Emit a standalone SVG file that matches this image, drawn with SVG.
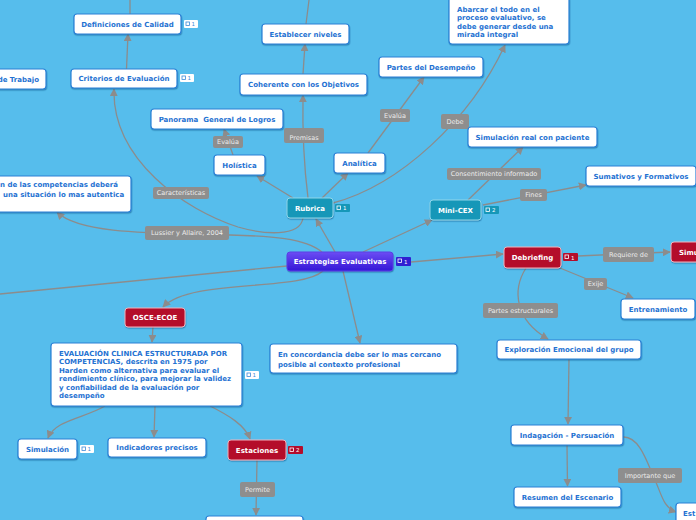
<svg xmlns="http://www.w3.org/2000/svg" width="696" height="520" viewBox="0 0 696 520">
<defs>
<marker id="a" viewBox="0 0 10 10" refX="9" refY="5" markerWidth="8" markerHeight="8" markerUnits="userSpaceOnUse" orient="auto"><path d="M0,0 L10,5 L0,10 z" fill="#8c8c8c"/></marker>
<linearGradient id="pg" x1="0" y1="0" x2="0" y2="1"><stop offset="0" stop-color="#6c4cf4"/><stop offset="1" stop-color="#3417d6"/></linearGradient>
<filter id="sh" x="-10%" y="-20%" width="120%" height="150%"><feDropShadow dx="0.5" dy="1.2" stdDeviation="0.6" flood-color="#0a4a80" flood-opacity="0.45"/></filter>
</defs>
<style>
.n rect{fill:#fff;stroke:#2a80d6;stroke-width:1.2;filter:url(#sh)}
.n text{font-family:"DejaVu Sans",Verdana,sans-serif;font-weight:bold;font-size:7px;fill:#1f72d2;text-anchor:middle}
.n text.l{text-anchor:start}
.t rect{fill:#1697b8;stroke:#8fd6ea;stroke-width:1}
.r rect{fill:#b40d2c;stroke:#f0b4bc;stroke-width:1}
.p rect{fill:url(#pg);stroke:#5a3ee6;stroke-width:1}
.t text,.r text,.p text{fill:#fff}
.lb rect{fill:#8e8e8e;stroke:none}
.lb text{font-family:"DejaVu Sans",Verdana,sans-serif;font-size:6.5px;fill:#ececec;text-anchor:middle}
.c path{fill:none;stroke:#8c8c8c;stroke-width:1.3}
.c .ar{marker-end:url(#a)}
.bd rect.b{stroke:none}
.bd rect.i{fill:none;stroke-width:0.8}
.bd text{font-family:"DejaVu Sans",sans-serif;font-size:5.5px}
.bw rect.b{fill:#fff}
.bw rect.i{stroke:#3d8ad8}
.bw text{fill:#3d8ad8}
.bc rect.i{stroke:#fff}
.bc text{fill:#fff}
</style>
<rect x="0" y="0" width="696" height="520" fill="#56bdec"/>

<g id="connectors" class="c">
<path d="M130,14 L130,0"/>
<path d="M306,24 L309,0"/>
<path class="ar" d="M126.5,69 L128,34"/>
<path class="ar" d="M303,74 L305,44"/>
<path class="ar" d="M308,198 Q302,150 303,95"/>
<path class="ar" d="M293,198 L257,176"/>
<path class="ar" d="M233,155 L224,129"/>
<path class="ar" d="M322,198 L348,173"/>
<path class="ar" d="M368,153 L424,77"/>
<path class="ar" d="M333,203 C400,185 470,120 505,45"/>
<path class="ar" d="M303,218 C300,238 262,234 238,227 C185,210 112,160 114,89"/>
<path class="ar" d="M322,252 C305,238 270,236 230,235 C160,233 80,235 57,212"/>
<path class="ar" d="M335,252 L316,219"/>
<path class="ar" d="M363,252 L432,220"/>
<path class="ar" d="M468,200 L523,147"/>
<path class="ar" d="M483,205 L586,185"/>
<path class="ar" d="M411,262 L503,254"/>
<path class="ar" d="M578,256 L670,252"/>
<path class="ar" d="M560,268 L633,298"/>
<path class="ar" d="M526,268 C512,290 515,320 548,339"/>
<path class="ar" d="M569,359 L568,424"/>
<path class="ar" d="M567,445 L567.5,486"/>
<path class="ar" d="M623,437 C640,436 648,465 655,480 C662,496 664,508 676,512"/>
<path class="ar" d="M343,271 L360,343"/>
<path d="M287,266 L0,294"/>
<path class="ar" d="M323,271 C300,292 190,278 163,307"/>
<path class="ar" d="M153,327 L152,342"/>
<path class="ar" d="M105,406 C85,418 55,420 48,438"/>
<path class="ar" d="M155,406 L154,437"/>
<path class="ar" d="M210,406 C228,415 245,425 250,439"/>
<path class="ar" d="M257,460 L256,515"/>
</g>

<g id="lbl-premisas" class="lb"><rect x="284" y="128" width="40" height="15" rx="2"/><text x="304" y="140.3">Premisas</text></g>
<g id="lbl-evalua1" class="lb"><rect x="213" y="136" width="30" height="12" rx="2"/><text x="228" y="144.3">Evalúa</text></g>
<g id="lbl-evalua2" class="lb"><rect x="380" y="109" width="30" height="13" rx="2"/><text x="395" y="117.8">Evalúa</text></g>
<g id="lbl-debe" class="lb"><rect x="441" y="114" width="28" height="15" rx="2"/><text x="455" y="123.8">Debe</text></g>
<g id="lbl-caract" class="lb"><rect x="153" y="187" width="56" height="12" rx="2"/><text x="181" y="195.3">Características</text></g>
<g id="lbl-lussier" class="lb"><rect x="145" y="226" width="84" height="14" rx="2"/><text x="187" y="235.3">Lussier y Allaire, 2004</text></g>
<g id="lbl-consent" class="lb"><rect x="447" y="168" width="94" height="12" rx="2"/><text x="494" y="176.3">Consentimiento informado</text></g>
<g id="lbl-fines" class="lb"><rect x="520" y="189" width="27" height="12" rx="2"/><text x="533.5" y="197.3">Fines</text></g>
<g id="lbl-requiere" class="lb"><rect x="603" y="247" width="51" height="15" rx="2"/><text x="628.5" y="256.8">Requiere de</text></g>
<g id="lbl-exije" class="lb"><rect x="584" y="278" width="23" height="12" rx="2"/><text x="595.5" y="286.3">Exije</text></g>
<g id="lbl-partes" class="lb"><rect x="483" y="303" width="75" height="15" rx="2"/><text x="520.5" y="312.8">Partes estructurales</text></g>
<g id="lbl-permite" class="lb"><rect x="240" y="482" width="35" height="15" rx="2"/><text x="257.5" y="491.8">Permite</text></g>
<g id="lbl-importante" class="lb"><rect x="618" y="468" width="64" height="15" rx="2"/><text x="650" y="477.8">Importante que</text></g>

<g id="n-definiciones" class="n"><rect x="74" y="14" width="107" height="20" rx="3"/><text x="127.5" y="26.8">Definiciones de Calidad</text></g>
<g id="b-definiciones" class="bd bw"><rect class="b" x="184" y="20" width="14" height="8" rx="1"/><rect class="i" x="186" y="22" width="3.5" height="3.5"/><text x="191.5" y="26.3">1</text></g>
<g id="n-criterios" class="n"><rect x="71" y="69" width="106" height="19" rx="3"/><text x="124" y="81.2">Criterios de Evaluación</text></g>
<g id="b-criterios" class="bd bw"><rect class="b" x="180" y="74" width="14" height="8" rx="1"/><rect class="i" x="182" y="76" width="3.5" height="3.5"/><text x="187.5" y="80.3">1</text></g>
<g id="n-trabajo" class="n"><rect x="-60" y="69" width="106" height="20" rx="3"/><text x="39" y="81.8" style="text-anchor:end">de Trabajo</text></g>
<g id="n-establecer" class="n"><rect x="262" y="24" width="87" height="20" rx="3"/><text x="305.5" y="36.8">Establecer niveles</text></g>
<g id="n-coherente" class="n"><rect x="240" y="74" width="127" height="21" rx="3"/><text x="303.5" y="87">Coherente con los Objetivos</text></g>
<g id="n-abarcar" class="n"><rect x="449" y="-4" width="120" height="48" rx="3"/><text class="l" x="457" y="11.8">Abarcar el todo en el</text><text class="l" x="457" y="20.2">proceso evaluativo, se</text><text class="l" x="457" y="28.6">debe generar desde una</text><text class="l" x="457" y="37">mirada integral</text></g>
<g id="n-partes" class="n"><rect x="379" y="57" width="104" height="20" rx="3"/><text x="431" y="69.5">Partes del Desempeño</text></g>
<g id="n-panorama" class="n"><rect x="151" y="109" width="132" height="20" rx="3"/><text x="217" y="121.5" style="white-space:pre">Panorama  General de Logros</text></g>
<g id="n-holistica" class="n"><rect x="214" y="155" width="51" height="20" rx="3"/><text x="239.5" y="167.5">Holística</text></g>
<g id="n-analitica" class="n"><rect x="334" y="153" width="51" height="20" rx="3"/><text x="359.5" y="165.5">Analítica</text></g>
<g id="n-rubrica" class="n t"><rect x="287" y="198" width="46" height="20" rx="3"/><text x="310" y="210.5">Rubrica</text></g>
<g id="b-rubrica" class="bd bc"><rect class="b" x="335" y="204" width="15" height="8" rx="1" fill="#1697b8"/><rect class="i" x="337" y="206" width="3.5" height="3.5"/><text x="343" y="210.3">1</text></g>
<g id="n-minicex" class="n t"><rect x="430" y="200" width="51" height="20" rx="3"/><text x="455.5" y="212.5">Mini-CEX</text></g>
<g id="b-minicex" class="bd bc"><rect class="b" x="484" y="206" width="15" height="8" rx="1" fill="#1697b8"/><rect class="i" x="486" y="208" width="3.5" height="3.5"/><text x="492" y="212.3">2</text></g>
<g id="n-simreal" class="n"><rect x="468" y="127" width="129" height="20" rx="3"/><text x="532.5" y="139.5">Simulación real con paciente</text></g>
<g id="n-sumativos" class="n"><rect x="586" y="166" width="110" height="20" rx="3"/><text x="641" y="178.5">Sumativos y Formativos</text></g>
<g id="n-competencias" class="n"><rect x="-120" y="176" width="251" height="36" rx="3"/><text class="l" x="0" y="186.8">n de las competencias deberá</text><text class="l" x="3" y="197.2">una situación lo mas autentica</text></g>
<g id="n-estrategias" class="n p"><rect x="287" y="252" width="106" height="19" rx="3"/><text x="340" y="264">Estrategias Evaluativas</text></g>
<g id="b-estrategias" class="bd bc"><rect class="b" x="396" y="257" width="15" height="9" rx="1" fill="#3020d2"/><rect class="i" x="398" y="259" width="3.5" height="3.5"/><text x="404" y="264">1</text></g>
<g id="n-debriefing" class="n r"><rect x="504" y="247" width="57" height="21" rx="3"/><text x="532.5" y="260">Debriefing</text></g>
<g id="b-debriefing" class="bd bc"><rect class="b" x="563" y="253" width="15" height="8" rx="1" fill="#b40d2c"/><rect class="i" x="565" y="255" width="3.5" height="3.5"/><text x="571" y="259.8">1</text></g>
<g id="n-simu" class="n r"><rect x="671" y="242" width="60" height="20" rx="3"/><text class="l" x="679" y="254.5">Simulación</text></g>
<g id="n-entrenamiento" class="n"><rect x="621" y="299" width="74" height="20" rx="3"/><text x="658" y="311.5">Entrenamiento</text></g>
<g id="n-exploracion" class="n"><rect x="497" y="340" width="144" height="19" rx="3"/><text x="569" y="352">Exploración Emocional del grupo</text></g>
<g id="n-osce" class="n r"><rect x="125" y="308" width="60" height="19" rx="3"/><text x="155" y="320">OSCE-ECOE</text></g>
<g id="n-evaluacion" class="n"><rect x="51" y="343" width="191" height="63" rx="3"/><text class="l" x="59" y="355.6">EVALUACIÓN CLINICA ESTRUCTURADA POR</text><text class="l" x="59" y="364.1">COMPETENCIAS, descrita en 1975 por</text><text class="l" x="59" y="372.6">Harden como alternativa para evaluar el</text><text class="l" x="59" y="381.1">rendimiento clínico, para mejorar la validez</text><text class="l" x="59" y="389.6">y confiabilidad de la evaluación por</text><text class="l" x="59" y="398.1">desempeño</text></g>
<g id="b-evaluacion" class="bd bw"><rect class="b" x="245" y="371" width="14" height="8" rx="1"/><rect class="i" x="247" y="373" width="3.5" height="3.5"/><text x="252.5" y="377.3">1</text></g>
<g id="n-concordancia" class="n"><rect x="270" y="344" width="187" height="29" rx="3"/><text class="l" x="278" y="357.2">En concordancia debe ser lo mas cercano</text><text class="l" x="278" y="366.6">posible al contexto profesional</text></g>
<g id="n-simulacion" class="n"><rect x="18" y="439" width="59" height="20" rx="3"/><text x="47.5" y="451.5">Simulación</text></g>
<g id="b-simulacion" class="bd bw"><rect class="b" x="80" y="445" width="14" height="8" rx="1"/><rect class="i" x="82" y="447" width="3.5" height="3.5"/><text x="87.5" y="451.3">1</text></g>
<g id="n-indicadores" class="n"><rect x="108" y="438" width="98" height="19" rx="3"/><text x="157" y="450">Indicadores precisos</text></g>
<g id="n-estaciones" class="n r"><rect x="228" y="440" width="58" height="20" rx="3"/><text x="257" y="452.5">Estaciones</text></g>
<g id="b-estaciones" class="bd bc"><rect class="b" x="288" y="446" width="15" height="8" rx="1" fill="#b40d2c"/><rect class="i" x="290" y="448" width="3.5" height="3.5"/><text x="296" y="452.3">2</text></g>
<g id="n-bottom" class="n"><rect x="206" y="516" width="97" height="20" rx="3"/></g>
<g id="n-indagacion" class="n"><rect x="511" y="425" width="112" height="20" rx="3"/><text x="567" y="437.5">Indagación - Persuación</text></g>
<g id="n-resumen" class="n"><rect x="514" y="487" width="107" height="20" rx="3"/><text x="567.5" y="499.5">Resumen del Escenario</text></g>
<g id="n-est" class="n"><rect x="676" y="503" width="40" height="20" rx="3"/><text class="l" x="683" y="515.5">Est</text></g>
</svg>
